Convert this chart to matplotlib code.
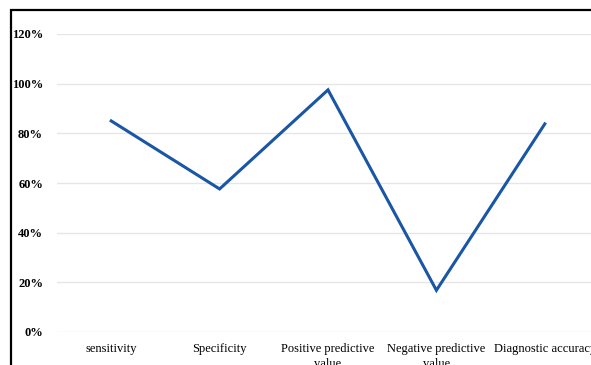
import matplotlib
matplotlib.use("Agg")
import matplotlib.pyplot as plt
from matplotlib.patches import Rectangle
from matplotlib.ticker import FuncFormatter

categories = ["sensitivity", "Specificity", "Positive predictive\nvalue",
              "Negative predictive\nvalue", "Diagnostic accuracy"]
values = [0.85, 0.576, 0.975, 0.168, 0.838]
yticks = [0, 0.2, 0.4, 0.6, 0.8, 1.0, 1.2]

plt.rcParams['font.family'] = ['Liberation Serif', 'DejaVu Serif']

fig = plt.figure(figsize=(5.91, 3.65), dpi=100)
W, H = 591, 365
ax = fig.add_axes([57 / W, (H - 332) / H, 542 / W, 298 / H])

x = list(range(len(categories)))
ax.plot(x, values, color="#1A56A6", linewidth=2.2, solid_joinstyle="miter", clip_on=False)

ax.set_xlim(-0.5, len(categories) - 0.5)
ax.set_ylim(0, 1.2)
ax.set_yticks(yticks)
ax.yaxis.set_major_formatter(FuncFormatter(lambda v, p: f"{v*100:.0f}%"))
ax.set_xticks(x)
ax.set_xticklabels(categories, fontsize=9, linespacing=1.3)
for lab in ax.get_yticklabels():
    lab.set_fontweight("bold")
    lab.set_fontsize(9)
ax.tick_params(axis="both", length=0)
ax.tick_params(axis="y", pad=10)
ax.tick_params(axis="x", pad=8)
ax.grid(axis="y", color="#E6E6E6", linewidth=1.0)
ax.set_axisbelow(True)
for s in ax.spines.values():
    s.set_visible(False)

# outer border of the chart area (cropped screenshot)
fig.patches.append(Rectangle((10.5 / W, -0.1), 1.2, (H - 9.5) / H + 0.1,
                             transform=fig.transFigure, fill=False,
                             edgecolor="black", linewidth=1.6))

fig.savefig("out.png", dpi=100)
